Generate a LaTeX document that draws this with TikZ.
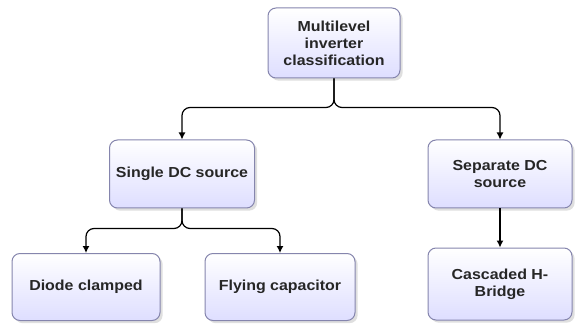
\documentclass[tikz,border=0pt]{standalone}
\usepackage{fontspec}
\setmainfont{Liberation Sans}
\newfontfamily\boxfont[FakeStretch=1.1]{Liberation Sans}
\usetikzlibrary{arrows.meta,shadows}
\tikzset{
  blk/.style={draw=blue!20!gray!80, line width=1pt, rounded corners=8pt,
    top color=white, bottom color=blue!13, drop shadow={opacity=0.25},
    minimum width=145pt, minimum height=68pt, align=center,
    font=\boxfont\bfseries\fontsize{14.5}{17}\selectfont, text=black!85},
  conn/.style={line width=1.2pt, rounded corners=8pt, -{Latex[length=7pt,width=7pt]}}
}
\begin{document}
\begin{tikzpicture}[x=1pt,y=1pt]
\useasboundingbox (0,0) rectangle (576,-326);
\node[blk, minimum width=132pt, minimum height=70pt] (mlc) at (334,-43) {Multilevel\\inverter\\classification};
\node[blk] (sdc) at (182,-174) {Single DC source};
\node[blk, minimum width=144pt] (sep) at (500,-174) {Separate DC\\source};
\node[blk, minimum width=148pt, minimum height=67pt] (dio) at (86,-287) {Diode clamped};
\node[blk, minimum width=150pt, minimum height=67pt] (fly) at (280,-287) {Flying capacitor};
\node[blk, minimum width=144pt, minimum height=72pt] (chb) at (500,-284) {Cascaded H-\\Bridge};
% connectors
\draw[conn] (mlc.south) -- ++(0,-29) -| (sdc.north);
\draw[conn] (mlc.south) -- ++(0,-29) -| (sep.north);
\draw[conn] (sdc.south) -- ++(0,-20) -| (dio.north);
\draw[conn] (sdc.south) -- ++(0,-20) -| (fly.north);
\draw[conn] (sep.south) -- (chb.north);
\end{tikzpicture}
\end{document}
